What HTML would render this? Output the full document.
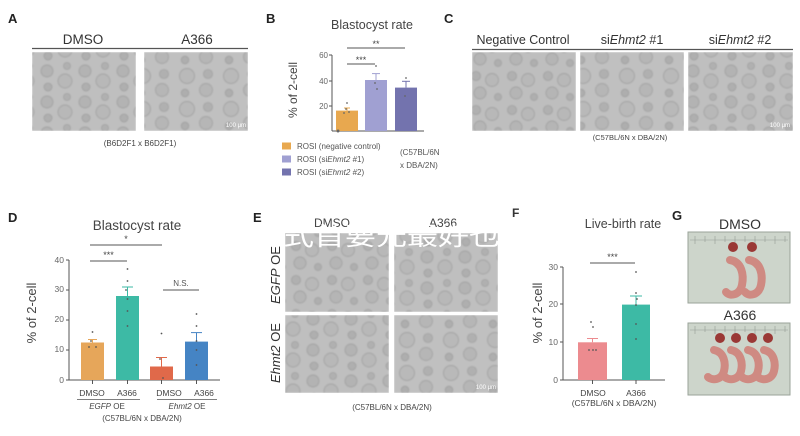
<!DOCTYPE html>
<html><head><meta charset="utf-8">
<style>
html,body{margin:0;padding:0;background:#fff;}
svg{display:block;}
text{font-family:"Liberation Sans","Noto Sans CJK SC",sans-serif;}
</style></head>
<body>
<svg width="800" height="436" viewBox="0 0 800 436" xmlns="http://www.w3.org/2000/svg">
<defs>
<filter id="bl" x="0" y="0" width="100%" height="100%"><feGaussianBlur stdDeviation="0.7"/></filter>
<pattern id="emb1" width="38" height="31" patternUnits="userSpaceOnUse">
<rect width="38" height="31" fill="#bfbfbf"/>
<circle cx="9" cy="9" r="6" fill="#b3b3b3" stroke="#a0a0a0" stroke-width="0.9"/>
<circle cx="27" cy="19" r="7" fill="#b8b8b8" stroke="#a2a2a2" stroke-width="0.9"/>
<circle cx="29" cy="4" r="3.5" fill="#b0b0b0" stroke="#a0a0a0" stroke-width="0.8"/>
<circle cx="10" cy="25" r="4" fill="#afafaf" stroke="#9e9e9e" stroke-width="0.8"/>
</pattern>
<pattern id="emb2" width="44" height="33" patternUnits="userSpaceOnUse">
<rect width="44" height="33" fill="#c0c0c0"/>
<circle cx="11" cy="10" r="7.5" fill="#b9b9b9" stroke="#a1a1a1" stroke-width="0.9"/>
<circle cx="32" cy="8" r="4.5" fill="#b0b0b0" stroke="#a0a0a0" stroke-width="0.8"/>
<circle cx="30" cy="24" r="6.5" fill="#b6b6b6" stroke="#a2a2a2" stroke-width="0.9"/>
<circle cx="9" cy="27" r="3.8" fill="#aeaeae" stroke="#9e9e9e" stroke-width="0.8"/>
</pattern>
<pattern id="emb3" width="36" height="34" patternUnits="userSpaceOnUse">
<rect width="36" height="34" fill="#bebebe"/>
<circle cx="8" cy="8" r="4.5" fill="#b0b0b0" stroke="#9e9e9e" stroke-width="0.8"/>
<circle cx="24" cy="12" r="6.5" fill="#b8b8b8" stroke="#a1a1a1" stroke-width="0.9"/>
<circle cx="12" cy="25" r="6" fill="#b5b5b5" stroke="#a0a0a0" stroke-width="0.9"/>
<circle cx="30" cy="29" r="3.5" fill="#afafaf" stroke="#9e9e9e" stroke-width="0.8"/>
</pattern>
</defs>

<!-- ============ Panel A ============ -->
<text x="8" y="23" font-size="13" font-weight="bold" fill="#222">A</text>
<text x="83" y="44" font-size="13.5" text-anchor="middle" fill="#333">DMSO</text>
<text x="197" y="44" font-size="13.5" text-anchor="middle" fill="#333">A366</text>
<line x1="32" y1="48.5" x2="248" y2="48.5" stroke="#555" stroke-width="1.2"/>
<rect x="32" y="52" width="104" height="79" fill="url(#emb1)" filter="url(#bl)"/>
<rect x="144" y="52" width="104" height="79" fill="url(#emb2)" filter="url(#bl)"/>
<text x="236" y="127" font-size="6" text-anchor="middle" fill="#fff">100 μm</text>
<text x="140" y="146" font-size="8" text-anchor="middle" fill="#444">(B6D2F1 x B6D2F1)</text>

<!-- ============ Panel B ============ -->
<text x="266" y="23" font-size="13" font-weight="bold" fill="#222">B</text>
<text x="372" y="29" font-size="12.5" text-anchor="middle" fill="#444">Blastocyst rate</text>
<text transform="translate(297,90) rotate(-90)" font-size="12" text-anchor="middle" fill="#444">% of 2-cell</text>
<g font-size="8" fill="#666" text-anchor="end">
<text x="328" y="58">60</text><text x="328" y="84">40</text><text x="328" y="109">20</text>
</g>
<g stroke="#555" stroke-width="1">
<line x1="332" y1="55" x2="332" y2="131"/>
<line x1="332" y1="131" x2="424" y2="131"/>
<line x1="329" y1="55" x2="332" y2="55"/><line x1="329" y1="81" x2="332" y2="81"/><line x1="329" y1="106" x2="332" y2="106"/>
</g>
<rect x="336" y="110.6" width="22" height="20.4" fill="#E8A84F"/>
<rect x="365" y="80" width="22" height="51" fill="#A0A0D2"/>
<rect x="395" y="87.6" width="22" height="43.4" fill="#7373AE"/>
<g stroke-width="1">
<line x1="347" y1="110.6" x2="347" y2="108" stroke="#E8A84F"/><line x1="344" y1="108" x2="350" y2="108" stroke="#E8A84F"/>
<line x1="376" y1="80" x2="376" y2="73.6" stroke="#A0A0D2"/><line x1="372" y1="73.6" x2="380" y2="73.6" stroke="#A0A0D2"/>
<line x1="406" y1="87.6" x2="406" y2="81.3" stroke="#7373AE"/><line x1="402" y1="81.3" x2="410" y2="81.3" stroke="#7373AE"/>
</g>
<g fill="#666">
<circle cx="347" cy="103" r="0.9"/><circle cx="346" cy="109" r="0.9"/><circle cx="349" cy="112" r="0.9"/><circle cx="344" cy="113" r="0.9"/>
<circle cx="376" cy="66" r="0.9"/><circle cx="375" cy="83" r="0.9"/><circle cx="377" cy="89" r="0.9"/>
<circle cx="406" cy="78" r="0.9"/><circle cx="405" cy="96" r="0.9"/>
<circle cx="338" cy="131" r="1.5"/>
</g>
<g stroke="#555" stroke-width="1">
<line x1="347" y1="64" x2="375" y2="64"/>
<line x1="347" y1="48" x2="405" y2="48"/>
</g>
<text x="361" y="63" font-size="9" text-anchor="middle" fill="#444">***</text>
<text x="376" y="47" font-size="9" text-anchor="middle" fill="#444">**</text>
<rect x="282" y="142.5" width="9" height="7" fill="#E8A84F"/>
<rect x="282" y="155.5" width="9" height="7" fill="#A0A0D2"/>
<rect x="282" y="168.5" width="9" height="7" fill="#7373AE"/>
<g font-size="8" fill="#555">
<text x="297" y="149">ROSI (negative control)</text>
<text x="297" y="162">ROSI (si<tspan font-style="italic">Ehmt2</tspan> #1)</text>
<text x="297" y="175">ROSI (si<tspan font-style="italic">Ehmt2</tspan> #2)</text>
<text x="400" y="155">(C57BL/6N</text>
<text x="400" y="168">x DBA/2N)</text>
</g>

<!-- ============ Panel C ============ -->
<text x="444" y="23" font-size="13" font-weight="bold" fill="#222">C</text>
<g font-size="12.5" fill="#333" text-anchor="middle">
<text x="523" y="44">Negative Control</text>
<text x="632" y="44">si<tspan font-style="italic">Ehmt2</tspan> #1</text>
<text x="740" y="44">si<tspan font-style="italic">Ehmt2</tspan> #2</text>
</g>
<line x1="472" y1="49.5" x2="793" y2="49.5" stroke="#555" stroke-width="1.2"/>
<rect x="472" y="52" width="104" height="79" fill="url(#emb3)" filter="url(#bl)"/>
<rect x="580" y="52" width="104" height="79" fill="url(#emb2)" filter="url(#bl)"/>
<rect x="688" y="52" width="105" height="79" fill="url(#emb1)" filter="url(#bl)"/>
<text x="780" y="127" font-size="6" text-anchor="middle" fill="#fff">100 μm</text>
<text x="630" y="140" font-size="7.5" text-anchor="middle" fill="#444">(C57BL/6N x DBA/2N)</text>

<!-- ============ Panel D ============ -->
<text x="8" y="222" font-size="13" font-weight="bold" fill="#222">D</text>
<text x="137" y="230" font-size="13.5" text-anchor="middle" fill="#444">Blastocyst rate</text>
<text transform="translate(36,313) rotate(-90)" font-size="13" text-anchor="middle" fill="#444">% of 2-cell</text>
<g font-size="8.5" fill="#666" text-anchor="end">
<text x="64" y="263">40</text><text x="64" y="292">30</text><text x="64" y="322">20</text><text x="64" y="352">10</text><text x="64" y="383">0</text>
</g>
<g stroke="#555" stroke-width="1">
<line x1="69" y1="260" x2="69" y2="380"/>
<line x1="69" y1="380" x2="220" y2="380"/>
<line x1="66" y1="260" x2="69" y2="260"/><line x1="66" y1="290" x2="69" y2="290"/><line x1="66" y1="320" x2="69" y2="320"/><line x1="66" y1="350" x2="69" y2="350"/><line x1="66" y1="380" x2="69" y2="380"/>
<line x1="92.5" y1="380" x2="92.5" y2="384"/><line x1="127.5" y1="380" x2="127.5" y2="384"/><line x1="161.5" y1="380" x2="161.5" y2="384"/><line x1="196.5" y1="380" x2="196.5" y2="384"/>
</g>
<rect x="81" y="342.5" width="23" height="37.5" fill="#E6A65A"/>
<rect x="116" y="296" width="23" height="84" fill="#3DBAA5"/>
<rect x="150" y="366.5" width="23" height="13.5" fill="#E0694A"/>
<rect x="185" y="341.6" width="23" height="38.4" fill="#4584C4"/>
<g stroke-width="1">
<line x1="92.5" y1="342.5" x2="92.5" y2="339.5" stroke="#E6A65A"/><line x1="88" y1="339.5" x2="97" y2="339.5" stroke="#E6A65A"/>
<line x1="127.5" y1="296" x2="127.5" y2="287" stroke="#3DBAA5"/><line x1="122" y1="287" x2="133" y2="287" stroke="#3DBAA5"/>
<line x1="161.5" y1="366.5" x2="161.5" y2="357.5" stroke="#E0694A"/><line x1="156" y1="357.5" x2="167" y2="357.5" stroke="#E0694A"/>
<line x1="196.5" y1="341.6" x2="196.5" y2="332.6" stroke="#4584C4"/><line x1="191" y1="332.6" x2="202" y2="332.6" stroke="#4584C4"/>
</g>
<g fill="#555">
<circle cx="92.5" cy="332" r="0.9"/><circle cx="91" cy="341" r="0.9"/><circle cx="89" cy="347" r="0.9"/><circle cx="96" cy="347" r="0.9"/>
<circle cx="127.5" cy="269" r="0.9"/><circle cx="127.5" cy="281" r="0.9"/><circle cx="126" cy="290" r="0.9"/><circle cx="127.5" cy="299" r="0.9"/><circle cx="127.5" cy="311" r="0.9"/><circle cx="127.5" cy="326" r="0.9"/>
<circle cx="161.5" cy="333.5" r="0.9"/><circle cx="160" cy="359" r="0.9"/><circle cx="163" cy="378" r="0.9"/>
<circle cx="196.5" cy="314" r="0.9"/><circle cx="196.5" cy="326" r="0.9"/><circle cx="196.5" cy="341" r="0.9"/><circle cx="196.5" cy="350" r="0.9"/><circle cx="196.5" cy="365" r="0.9"/>
</g>
<g stroke="#555" stroke-width="1">
<line x1="90" y1="261" x2="127" y2="261"/>
<line x1="90" y1="245" x2="162" y2="245"/>
<line x1="163" y1="290" x2="199" y2="290"/>
</g>
<text x="108.5" y="258" font-size="9" text-anchor="middle" fill="#444">***</text>
<text x="126" y="242" font-size="9" text-anchor="middle" fill="#444">*</text>
<text x="181" y="286" font-size="8" text-anchor="middle" fill="#555">N.S.</text>
<g font-size="8.5" fill="#444" text-anchor="middle">
<text x="92" y="396">DMSO</text><text x="127" y="396">A366</text>
<text x="169" y="396">DMSO</text><text x="204" y="396">A366</text>
</g>
<g stroke="#555" stroke-width="0.8">
<line x1="77" y1="399.5" x2="140" y2="399.5"/>
<line x1="157" y1="399.5" x2="217" y2="399.5"/>
</g>
<g font-size="8" fill="#444" text-anchor="middle">
<text x="107" y="409"><tspan font-style="italic">EGFP</tspan> OE</text>
<text x="187" y="409"><tspan font-style="italic">Ehmt2</tspan> OE</text>
<text x="142" y="421">(C57BL/6N x DBA/2N)</text>
</g>

<!-- ============ Panel E ============ -->
<text x="253" y="222" font-size="13" font-weight="bold" fill="#222">E</text>
<text x="332" y="227" font-size="12" text-anchor="middle" fill="#444">DMSO</text>
<text x="443" y="227" font-size="12" text-anchor="middle" fill="#444">A366</text>
<rect x="285" y="233" width="104" height="79" fill="url(#emb3)" filter="url(#bl)"/>
<rect x="394" y="233" width="104" height="79" fill="url(#emb1)" filter="url(#bl)"/>
<rect x="285" y="315" width="104" height="78" fill="url(#emb1)" filter="url(#bl)"/>
<rect x="394" y="315" width="104" height="78" fill="url(#emb2)" filter="url(#bl)"/>
<text x="486" y="389" font-size="6" text-anchor="middle" fill="#fff">100 μm</text>
<text transform="translate(280,275) rotate(-90)" font-size="13" text-anchor="middle" fill="#333"><tspan font-style="italic">EGFP</tspan> OE</text>
<text transform="translate(280,353) rotate(-90)" font-size="13" text-anchor="middle" fill="#333"><tspan font-style="italic">Ehmt2</tspan> OE</text>
<text x="392" y="410" font-size="8" text-anchor="middle" fill="#444">(C57BL/6N x DBA/2N)</text>
<text x="283" y="245" font-size="25" fill="#fff" textLength="217" lengthAdjust="spacingAndGlyphs" font-family="Noto Sans CJK SC, sans-serif">式首要元最好也</text>

<!-- ============ Panel F ============ -->
<text x="512" y="217" font-size="12" font-weight="bold" fill="#333">F</text>
<text x="623" y="228" font-size="12.5" text-anchor="middle" fill="#444">Live-birth rate</text>
<text transform="translate(542,313) rotate(-90)" font-size="13" text-anchor="middle" fill="#444">% of 2-cell</text>
<g font-size="8.5" fill="#666" text-anchor="end">
<text x="558" y="270">30</text><text x="558" y="307">20</text><text x="558" y="345">10</text><text x="558" y="383">0</text>
</g>
<g stroke="#555" stroke-width="1">
<line x1="563" y1="267" x2="563" y2="380"/>
<line x1="563" y1="380" x2="665" y2="380"/>
<line x1="560" y1="267" x2="563" y2="267"/><line x1="560" y1="304" x2="563" y2="304"/><line x1="560" y1="342" x2="563" y2="342"/><line x1="560" y1="380" x2="563" y2="380"/>
<line x1="592.5" y1="380" x2="592.5" y2="384"/><line x1="636" y1="380" x2="636" y2="384"/>
</g>
<rect x="578" y="342.3" width="29" height="37.7" fill="#EC8B8F"/>
<rect x="622" y="304.6" width="28" height="75.4" fill="#3DBAA5"/>
<g stroke-width="1">
<line x1="592.5" y1="342.3" x2="592.5" y2="338.5" stroke="#EC8B8F"/><line x1="587" y1="338.5" x2="598" y2="338.5" stroke="#EC8B8F"/>
<line x1="636" y1="304.6" x2="636" y2="296" stroke="#3DBAA5"/><line x1="630" y1="296" x2="642" y2="296" stroke="#3DBAA5"/>
</g>
<g fill="#555">
<circle cx="591" cy="322" r="0.9"/><circle cx="593" cy="327" r="0.9"/><circle cx="589" cy="350" r="0.9"/><circle cx="593" cy="350" r="0.9"/><circle cx="596" cy="350" r="0.9"/>
<circle cx="636" cy="272" r="0.9"/><circle cx="636" cy="293" r="0.9"/><circle cx="637" cy="299" r="0.9"/><circle cx="636" cy="305" r="0.9"/><circle cx="636" cy="324" r="0.9"/><circle cx="636" cy="339" r="0.9"/>
</g>
<line x1="590" y1="263" x2="635" y2="263" stroke="#555" stroke-width="1"/>
<text x="612.5" y="260" font-size="9" text-anchor="middle" fill="#444">***</text>
<g font-size="8.5" fill="#444" text-anchor="middle">
<text x="593" y="396">DMSO</text><text x="636" y="396">A366</text>
<text x="614" y="406">(C57BL/6N x DBA/2N)</text>
</g>

<!-- ============ Panel G ============ -->
<text x="672" y="220" font-size="13" font-weight="bold" fill="#222">G</text>
<text x="740" y="229" font-size="14" text-anchor="middle" fill="#333">DMSO</text>
<rect x="688" y="232" width="102" height="71" fill="#CDD5CB" stroke="#9aa39a" stroke-width="1"/>
<g stroke="#969d95" stroke-width="0.6">
<line x1="690" y1="240" x2="788" y2="240"/>
<line x1="695" y1="236" x2="695" y2="244"/><line x1="705" y1="236" x2="705" y2="242"/><line x1="715" y1="236" x2="715" y2="244"/><line x1="725" y1="236" x2="725" y2="242"/><line x1="735" y1="236" x2="735" y2="244"/><line x1="745" y1="236" x2="745" y2="242"/><line x1="755" y1="236" x2="755" y2="244"/><line x1="765" y1="236" x2="765" y2="242"/><line x1="775" y1="236" x2="775" y2="244"/><line x1="785" y1="236" x2="785" y2="242"/>
</g>
<circle cx="733" cy="247" r="5" fill="#9a3835"/>
<circle cx="752" cy="247" r="5" fill="#9a3835"/>
<g fill="none" stroke="#CF8A82" stroke-width="8" stroke-linecap="round">
<path d="M730,260 C742,262 744,275 742,285 C740,295 730,297 726,292"/>
<path d="M749,260 C761,262 763,275 761,285 C759,295 749,297 745,292"/>
</g>
<text x="740" y="320" font-size="14" text-anchor="middle" fill="#333">A366</text>
<rect x="688" y="323" width="102" height="72" fill="#CDD5CB" stroke="#9aa39a" stroke-width="1"/>
<g stroke="#969d95" stroke-width="0.6">
<line x1="690" y1="330" x2="788" y2="330"/>
<line x1="695" y1="326" x2="695" y2="334"/><line x1="705" y1="326" x2="705" y2="332"/><line x1="715" y1="326" x2="715" y2="334"/><line x1="725" y1="326" x2="725" y2="332"/><line x1="735" y1="326" x2="735" y2="334"/><line x1="745" y1="326" x2="745" y2="332"/><line x1="755" y1="326" x2="755" y2="334"/><line x1="765" y1="326" x2="765" y2="332"/><line x1="775" y1="326" x2="775" y2="334"/><line x1="785" y1="326" x2="785" y2="332"/>
</g>
<circle cx="720" cy="338" r="5" fill="#9a3835"/>
<circle cx="736" cy="338" r="5" fill="#9a3835"/>
<circle cx="752" cy="338" r="5" fill="#9a3835"/>
<circle cx="768" cy="338" r="5" fill="#9a3835"/>
<g fill="none" stroke="#CF8A82" stroke-width="8" stroke-linecap="round">
<path d="M714,350 C724,352 726,363 724,371 C722,380 712,381 708,377"/>
<path d="M731,350 C741,352 743,363 741,371 C739,380 729,381 725,377"/>
<path d="M748,350 C758,352 760,363 758,371 C756,380 746,381 742,377"/>
<path d="M764,350 C774,352 776,363 774,371 C772,380 762,381 758,377"/>
</g>
</svg>
</body></html>
